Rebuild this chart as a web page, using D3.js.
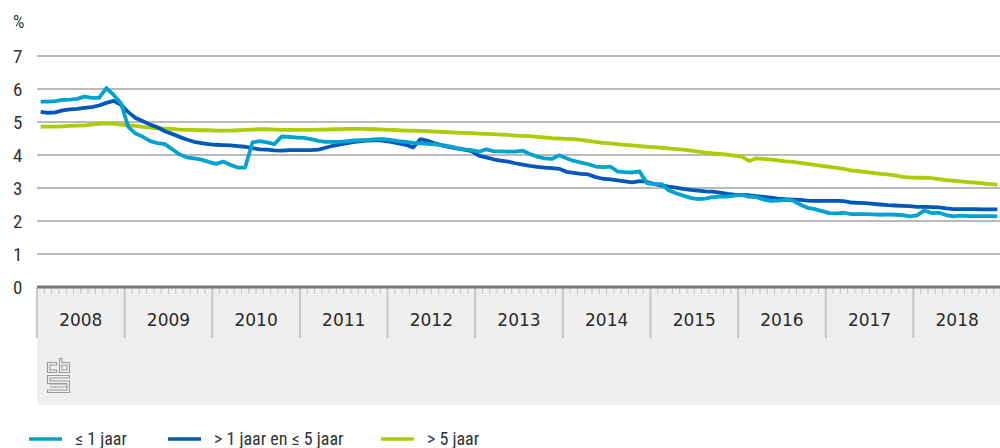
<!DOCTYPE html>
<html>
<head>
<meta charset="utf-8">
<script src="https://cdn.jsdelivr.net/npm/d3@7"></script>
<style>
  html, body { margin: 0; padding: 0; background: #fff; }
  svg { display: block; }
  .cond { font-family: "Liberation Sans Narrow", "Roboto Condensed", "Arial Narrow", "Liberation Sans", sans-serif; font-stretch: condensed; }
</style>
</head>
<body>
<svg id="chart" width="1000" height="448"></svg>
<script>
const years = ["2008","2009","2010","2011","2012","2013","2014","2015","2016","2017","2018"];
const yTicks = [0,1,2,3,4,5,6,7];
const unitLabel = "%";
const seriesNames = ["≤ 1 jaar", "> 1 jaar en ≤ 5 jaar", "> 5 jaar"];
const seriesColors = ["#00a3d0", "#0058b8", "#afcb05"];

// monthly values, Jan 2008 – Dec 2018
const shortRate = [
  5.62,5.62,5.63,5.67,5.68,5.70,5.77,5.73,5.73,6.03,5.82,5.57,
  4.85,4.65,4.55,4.42,4.36,4.33,4.18,4.02,3.93,3.90,3.86,3.79,
  3.73,3.80,3.70,3.62,3.62,4.38,4.42,4.38,4.33,4.56,4.55,4.53,
  4.52,4.48,4.43,4.40,4.40,4.40,4.42,4.44,4.45,4.46,4.48,4.48,
  4.45,4.42,4.40,4.37,4.35,4.34,4.32,4.30,4.26,4.21,4.17,4.15,
  4.10,4.17,4.12,4.11,4.10,4.10,4.13,4.03,3.95,3.90,3.88,3.99,
  3.90,3.82,3.77,3.72,3.65,3.63,3.65,3.50,3.48,3.47,3.50,3.15,
  3.12,3.12,2.93,2.84,2.77,2.70,2.66,2.68,2.72,2.74,2.74,2.77,
  2.79,2.74,2.72,2.65,2.61,2.62,2.64,2.62,2.50,2.40,2.36,2.30,
  2.24,2.23,2.25,2.21,2.21,2.21,2.20,2.19,2.20,2.19,2.18,2.14,
  2.17,2.32,2.24,2.25,2.18,2.14,2.16,2.15,2.15,2.15,2.15,2.14
];
const midRate = [
  5.31,5.28,5.29,5.35,5.38,5.40,5.43,5.45,5.50,5.58,5.64,5.52,
  5.30,5.12,5.02,4.92,4.84,4.72,4.64,4.55,4.47,4.40,4.36,4.33,
  4.31,4.30,4.29,4.27,4.25,4.21,4.17,4.16,4.14,4.13,4.15,4.15,
  4.15,4.15,4.16,4.22,4.28,4.32,4.36,4.40,4.42,4.44,4.45,4.43,
  4.40,4.35,4.31,4.23,4.48,4.43,4.35,4.29,4.24,4.20,4.16,4.12,
  3.98,3.93,3.87,3.83,3.80,3.75,3.71,3.67,3.64,3.62,3.60,3.58,
  3.49,3.46,3.43,3.41,3.33,3.28,3.26,3.23,3.20,3.17,3.21,3.19,
  3.12,3.08,3.04,3.01,2.97,2.94,2.92,2.90,2.89,2.86,2.82,2.80,
  2.79,2.78,2.75,2.73,2.71,2.68,2.66,2.65,2.64,2.62,2.61,2.61,
  2.61,2.61,2.60,2.56,2.55,2.54,2.52,2.50,2.48,2.47,2.46,2.45,
  2.43,2.43,2.42,2.41,2.38,2.36,2.36,2.36,2.36,2.35,2.35,2.35
];
const longRate = [
  4.86,4.86,4.86,4.87,4.88,4.89,4.90,4.92,4.94,4.96,4.95,4.92,
  4.90,4.88,4.85,4.83,4.81,4.80,4.79,4.77,4.76,4.76,4.75,4.75,
  4.74,4.74,4.74,4.75,4.76,4.77,4.78,4.78,4.77,4.76,4.76,4.76,
  4.76,4.76,4.77,4.77,4.78,4.78,4.79,4.79,4.79,4.78,4.78,4.77,
  4.76,4.75,4.74,4.74,4.73,4.72,4.71,4.70,4.69,4.68,4.67,4.66,
  4.65,4.64,4.63,4.62,4.61,4.59,4.58,4.57,4.55,4.53,4.51,4.50,
  4.49,4.48,4.46,4.43,4.40,4.37,4.35,4.33,4.31,4.29,4.27,4.25,
  4.24,4.22,4.20,4.18,4.16,4.13,4.10,4.07,4.05,4.03,4.01,3.98,
  3.95,3.82,3.90,3.88,3.86,3.84,3.81,3.79,3.76,3.73,3.70,3.67,
  3.64,3.61,3.58,3.53,3.51,3.48,3.46,3.43,3.41,3.38,3.34,3.32,
  3.31,3.31,3.30,3.27,3.24,3.22,3.20,3.18,3.16,3.14,3.12,3.10
];
const series = [shortRate, midRate, longRate];

const svg = d3.select("#chart");
const nMonths = years.length * 12;
const x = d3.scaleLinear().domain([0, nMonths]).range([37, 1001]);
const y = d3.scaleLinear().domain([0, 7]).range([287, 56]);

// axis panel background
svg.append("path")
  .attr("d", "M37,288 H1000 V405 H42 Q37,405 37,400 Z")
  .attr("fill", "#efefef");

// gridlines
svg.append("g").selectAll("line").data(yTicks.filter(d => d > 0)).join("line")
  .attr("x1", 37).attr("x2", 1000)
  .attr("y1", d => y(d)).attr("y2", d => y(d))
  .attr("stroke", "#a3a3a3").attr("stroke-width", 1.3);

// y labels
svg.append("g").selectAll("text").data(yTicks).join("text")
  .attr("class", "cond")
  .attr("x", 13).attr("y", d => y(d))
  .attr("dy", "0.36em")
  .attr("font-size", 19).attr("fill", "#333")
  .text(d => d);
svg.append("text").attr("class", "cond")
  .attr("x", 13).attr("y", 22).attr("dy", "0.36em")
  .attr("font-size", 18).attr("fill", "#333").text(unitLabel);

// minor month ticks
svg.append("g").selectAll("line").data(d3.range(nMonths)).join("line")
  .attr("x1", d => x(d)).attr("x2", d => x(d))
  .attr("y1", 288).attr("y2", 294)
  .attr("stroke", "#c4c4c4").attr("stroke-width", 1);

// year separators
svg.append("g").selectAll("line").data(d3.range(years.length)).join("line")
  .attr("x1", d => x(d * 12)).attr("x2", d => x(d * 12))
  .attr("y1", 288).attr("y2", 338)
  .attr("stroke", "#c6c6c6").attr("stroke-width", 2);

// year labels
svg.append("g").selectAll("text").data(years).join("text")
  .attr("x", (d, i) => x(i * 12 + 6)).attr("y", 320)
  .attr("dy", "0.36em").attr("text-anchor", "middle")
  .attr("font-family", "DejaVu Sans, sans-serif")
  .attr("font-size", 17).attr("fill", "#2a2a2a")
  .text(d => d);

// zero line
svg.append("line").attr("x1", 37).attr("x2", 1000)
  .attr("y1", y(0)).attr("y2", y(0))
  .attr("stroke", "#777").attr("stroke-width", 2.8);

// series lines
const line = d3.line().x((d, i) => x(i + 0.5)).y(d => y(d));
svg.append("g").selectAll("path").data([longRate, midRate, shortRate]).join("path")
  .attr("d", line)
  .attr("fill", "none")
  .attr("stroke", d => seriesColors[series.indexOf(d)])
  .attr("stroke-width", 3.8)
  .attr("stroke-linejoin", "round");

// logo
const logo = svg.append("g").attr("fill", "none").attr("stroke", "#9a9a9a").attr("stroke-width", 1.1);
logo.append("path").attr("d", "M47.5,362.5 h9 v2.5 h-6.5 v5 h6.5 v2.5 h-9 z");
logo.append("path").attr("d", "M59.5,358.5 h2.5 v4 h7.5 v10 h-10 z M62,365 v5 h5 v-5 z");
logo.append("path").attr("d", "M47.5,375.5 h22 v2.5 h-19.5 v3 h19.5 v11.5 h-22 v-2.5 h19.5 v-6.5 h-19.5 z");
logo.append("path").attr("d", "M50,384 h17 M50,387 h17");

// legend
const legendX = [29, 168, 381];
const lg = svg.append("g").selectAll("g").data(seriesNames).join("g")
  .attr("transform", (d, i) => `translate(${legendX[i]},439)`);
lg.append("line").attr("x1", 0).attr("x2", 33).attr("y1", 0).attr("y2", 0)
  .attr("stroke", (d, i) => seriesColors[i]).attr("stroke-width", 3.5);
lg.append("text").attr("class", "cond")
  .attr("x", 46).attr("y", 0).attr("dy", "0.36em")
  .attr("font-size", 18).attr("fill", "#333")
  .text(d => d);
</script>
</body>
</html>
